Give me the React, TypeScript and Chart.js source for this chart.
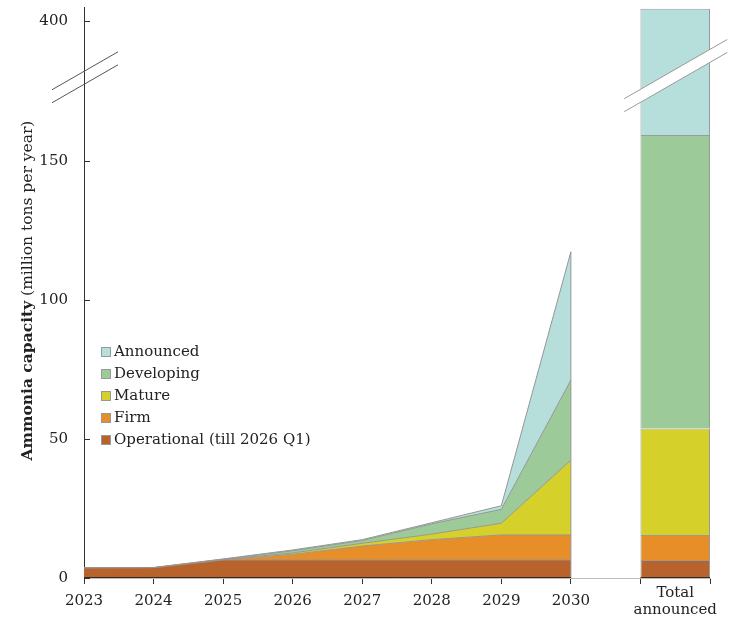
import React, { useEffect, useRef } from 'react';
import { Chart, registerables } from 'chart.js';

Chart.register(...registerables);

// ---------- data ----------
const years = ['2023', '2024', '2025', '2026', '2027', '2028', '2029', '2030'];
const totalLabel = ['Total', 'announced'];
const seriesNames = ['Operational (till 2026 Q1)', 'Firm', 'Mature', 'Developing', 'Announced'];
const seriesColors = ['#b8632c', '#e88e28', '#d5d12a', '#9dca99', '#b6dedb'];
const operational = [3.6, 3.7, 6.5, 6.5, 6.5, 6.5, 6.5, 6.5];
const firm = [0, 0, 0.1, 2.0, 5.0, 7.3, 9.0, 9.0];
const mature = [0, 0, 0.05, 0.5, 1.0, 2.0, 4.2, 26.9];
const developing = [0, 0, 0.1, 0.8, 1.0, 3.7, 5.0, 28.8];
const announced = [0.1, 0.1, 0.1, 0.3, 0.3, 0.4, 1.3, 46.2];
// Total announced bar: operational, firm, mature, developing, announced
const totalAnnounced = [6.5, 9.0, 38.3, 105.6, 245.0];
const yTickValues = [0, 50, 100, 150, 400];

// ---------- axis break ----------
const BREAK_AT = 180; // display value where the axis is broken
const BREAK_OFFSET = 199.5; // real value minus display value above the break
const toDisplay = (v: number) => (v > BREAK_AT ? v - BREAK_OFFSET : v);
const fromDisplay = (d: number) => (d > BREAK_AT ? d + BREAK_OFFSET : d);

const FONT = "'DejaVu Serif', serif";
const TEXT = '#222';

export default function App() {
  const ref = useRef<HTMLCanvasElement>(null);

  useEffect(() => {
    document.body.style.margin = '0';
    const canvas = ref.current!;
    const areaSeries = [operational, firm, mature, developing, announced];

    const lineDatasets = areaSeries.map((vals, k) => ({
      type: 'line' as const,
      label: seriesNames[k],
      data: vals.map((v, i) => ({ x: i, y: v })),
      backgroundColor: seriesColors[k],
      borderColor: '#969696',
      borderWidth: 1,
      pointRadius: 0,
      pointHoverRadius: 0,
      fill: k === 0 ? 'origin' : '-1',
      stack: 'area',
      tension: 0,
    }));

    let cum = 0;
    const barDatasets = totalAnnounced.map((v, k) => {
      const lo = toDisplay(cum);
      cum += v;
      const hi = toDisplay(cum);
      return {
        type: 'bar' as const,
        label: seriesNames[k] + ' (total)',
        data: [{ x: 8.5, y: hi - lo }],
        backgroundColor: seriesColors[k],
        borderColor: '#9a9a9a',
        borderWidth: { top: 1, left: 1, right: 1, bottom: 0 },
        borderSkipped: false,
        barPercentage: 2,
        categoryPercentage: 1,
        stack: 'total',
      };
    });

    const decor = {
      id: 'decor',
      afterDatasetsDraw(chart: any) {
        const { ctx, scales, chartArea } = chart;
        const x = scales.x;
        const y = scales.y;
        ctx.save();
        // right edge of the 2030 area
        const top2030 = areaSeries.reduce((s, a) => s + a[7], 0);
        const xe = x.getPixelForValue(7);
        ctx.strokeStyle = '#969696';
        ctx.lineWidth = 1;
        ctx.beginPath();
        ctx.moveTo(xe, y.getPixelForValue(0));
        ctx.lineTo(xe, y.getPixelForValue(top2030));
        ctx.stroke();
        // dark baseline under the area and the bar
        const yb = Math.round(y.getPixelForValue(0)) - 0.5;
        ctx.strokeStyle = '#3a2a1e';
        ctx.beginPath();
        ctx.moveTo(x.getPixelForValue(0), yb);
        ctx.lineTo(x.getPixelForValue(7), yb);
        ctx.moveTo(x.getPixelForValue(8), yb);
        ctx.lineTo(x.getPixelForValue(9), yb);
        ctx.stroke();
        // inner y ticks
        ctx.strokeStyle = '#333';
        y.ticks.forEach((t: any) => {
          const py = Math.round(y.getPixelForValue(t.value)) + 0.5;
          ctx.beginPath();
          ctx.moveTo(chartArea.left, py);
          ctx.lineTo(chartArea.left + 6, py);
          ctx.stroke();
        });
        // axis break on the y axis
        const yc = y.getPixelForValue(BREAK_AT);
        const x0 = chartArea.left;
        const slope = -0.575;
        ctx.strokeStyle = '#555';
        [-6.5, 6.5].forEach((off) => {
          ctx.beginPath();
          ctx.moveTo(x0 - 32, yc + off - slope * 32);
          ctx.lineTo(x0 + 34, yc + off + slope * 34);
          ctx.stroke();
        });
        // axis break on the bar
        const xc = x.getPixelForValue(8.5);
        const ycb = yc - 2;
        const a = -51;
        const b = 52;
        ctx.fillStyle = '#ffffff';
        ctx.beginPath();
        ctx.moveTo(xc + a, ycb - 6.5 + slope * a);
        ctx.lineTo(xc + b, ycb - 6.5 + slope * b);
        ctx.lineTo(xc + b, ycb + 6.5 + slope * b);
        ctx.lineTo(xc + a, ycb + 6.5 + slope * a);
        ctx.closePath();
        ctx.fill();
        ctx.strokeStyle = '#9a9a9a';
        [-6.5, 6.5].forEach((off) => {
          ctx.beginPath();
          ctx.moveTo(xc + a, ycb + off + slope * a);
          ctx.lineTo(xc + b, ycb + off + slope * b);
          ctx.stroke();
        });
        ctx.restore();
      },
      afterDraw(chart: any) {
        const { ctx, chartArea } = chart;
        ctx.save();
        // y-axis title with bold part
        const boldPart = 'Ammonia capacity';
        const regPart = ' (million tons per year)';
        const boldFont = `bold 15.5px ${FONT}`;
        const regFont = `15.5px ${FONT}`;
        ctx.font = boldFont;
        const wb = ctx.measureText(boldPart).width;
        ctx.font = regFont;
        const wr = ctx.measureText(regPart).width;
        const total = wb + wr;
        ctx.translate(28, (chartArea.top + chartArea.bottom) / 2 - 2);
        ctx.rotate(-Math.PI / 2);
        ctx.fillStyle = TEXT;
        ctx.textBaseline = 'middle';
        ctx.textAlign = 'left';
        ctx.font = boldFont;
        ctx.fillText(boldPart, -total / 2, 0);
        ctx.font = regFont;
        ctx.fillText(regPart, -total / 2 + wb, 0);
        ctx.restore();

        // legend (top to bottom: Announced ... Operational)
        ctx.save();
        ctx.font = `15px ${FONT}`;
        ctx.textBaseline = 'middle';
        ctx.textAlign = 'left';
        const order = [4, 3, 2, 1, 0];
        order.forEach((k, i) => {
          const cy = 352 + i * 22;
          ctx.fillStyle = seriesColors[k];
          ctx.fillRect(101, cy - 5, 10, 10);
          ctx.strokeStyle = '#999';
          ctx.lineWidth = 1;
          ctx.strokeRect(101.5, cy - 4.5, 9, 9);
          ctx.fillStyle = TEXT;
          ctx.fillText(seriesNames[k], 114, cy);
        });
        ctx.restore();
      },
    };

    const chart = new Chart(canvas, {
      data: { datasets: [...lineDatasets, ...barDatasets] as any },
      options: {
        responsive: false,
        animation: false,
        layout: { padding: { left: 0, right: 27, top: 7, bottom: 0 } },
        plugins: { legend: { display: false }, tooltip: { enabled: false } },
        scales: {
          x: {
            type: 'linear',
            min: 0,
            max: 9,
            offset: false,
            stacked: true,
            afterBuildTicks: (scale: any) => {
              scale.ticks = [0, 1, 2, 3, 4, 5, 6, 7, 8, 8.5, 9].map((v) => ({ value: v }));
            },
            afterFit: (scale: any) => {
              scale.height = 39;
              scale.paddingLeft = 0;
              scale.paddingRight = 0;
            },
            ticks: {
              autoSkip: false,
              maxRotation: 0,
              minRotation: 0,
              padding: 0,
              color: TEXT,
              font: (ctx: any) =>
                ctx.tick && ctx.tick.value === 8.5
                  ? { family: FONT, size: 15, lineHeight: 1.15 }
                  : { family: FONT, size: 15, lineHeight: 2.3 },
              callback: (value: any) => {
                const v = Number(value);
                if (v === 8.5) return totalLabel;
                if (Number.isInteger(v) && v <= 7) return years[v];
                return '';
              },
            },
            grid: {
              display: true,
              offset: false,
              drawOnChartArea: false,
              drawTicks: true,
              tickLength: 6,
              tickColor: (ctx: any) => (ctx.tick && ctx.tick.value === 8.5 ? 'rgba(0,0,0,0)' : '#333'),
            },
            border: { display: true, color: '#bbbbbb' },
          },
          y: {
            type: 'linear',
            min: 0,
            max: 205.5,
            stacked: true,
            afterBuildTicks: (scale: any) => {
              scale.ticks = yTickValues.map((v) => ({ value: toDisplay(v) }));
            },
            afterFit: (scale: any) => {
              scale.width = 84;
              scale.paddingTop = 0;
              scale.paddingBottom = 0;
            },
            ticks: {
              padding: 16,
              color: TEXT,
              font: { family: FONT, size: 15 },
              callback: (value: any) => String(Math.round(fromDisplay(Number(value)))),
            },
            grid: { display: false, drawTicks: false },
            border: { display: true, color: '#333' },
          },
        },
      },
      plugins: [decor],
    } as any);

    return () => chart.destroy();
  }, []);

  return (
    <div style={{ width: 737, height: 617, position: 'relative' }}>
      <canvas ref={ref} width={737} height={617} style={{ display: 'block' }} />
    </div>
  );
}
